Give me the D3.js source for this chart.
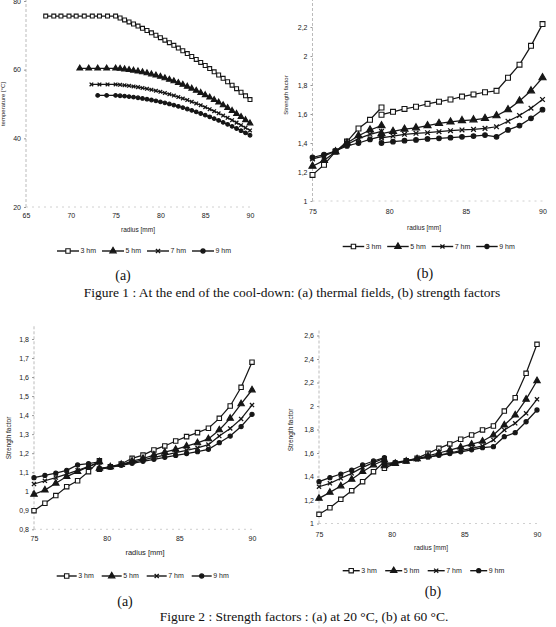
<!DOCTYPE html>
<html>
<head>
<meta charset="utf-8">
<script src="https://cdn.jsdelivr.net/npm/d3@7"></script>
<style>
  body { margin: 0; background: #fff; }
  svg { display: block; }
</style>
</head>
<body>
<div id="chart"></div>
<script>
// series names
const seriesNames = ["3 hm", "5 hm", "7 hm", "9 hm"];

// Figure 1 (a): temperature [°C] vs radius [mm]
const radiusFine = [75, 75.5, 76, 76.5, 77, 77.5, 78, 78.5, 79, 79.5, 80, 80.5, 81, 81.5, 82, 82.5,
  83, 83.5, 84, 84.5, 85, 85.5, 86, 86.5, 87, 87.5, 88, 88.5, 89, 89.5, 90];
const temp3hmStart = [67.2, 68.1, 68.9, 69.8, 70.6, 71.5, 72.4, 73.2, 74.1];
const temp5hmStart = [71, 72, 73, 74];
const temp7hmStart = [72.3, 73.2, 74.1];
const temp9hmStart = [73, 74];
const temp3hm = [75.6, 75.6, 75.6, 75.6, 75.6, 75.6, 75.6, 75.6, 75.6,
  75.6, 75.05, 74.49, 73.91, 73.31, 72.69, 72.05, 71.40, 70.72, 70.03, 69.32, 68.60, 67.85, 67.08, 66.30,
  65.50, 64.68, 63.84, 62.99, 62.11, 61.22, 60.31, 59.38, 58.44, 57.47, 56.49, 55.49, 54.47, 53.43, 52.38, 51.30];
const temp5hm = [60.4, 60.4, 60.4, 60.4,
  60.4, 60.29, 60.14, 59.97, 59.77, 59.54, 59.28, 58.99, 58.68, 58.33, 57.96, 57.55, 57.12, 56.66, 56.17,
  55.65, 55.10, 54.53, 53.92, 53.29, 52.62, 51.93, 51.21, 50.46, 49.68, 48.87, 48.04, 47.17, 46.28, 45.35, 44.40];
const temp7hm = [55.7, 55.7, 55.7,
  55.7, 55.59, 55.45, 55.30, 55.12, 54.91, 54.68, 54.43, 54.16, 53.86, 53.54, 53.20, 52.84, 52.45, 52.04,
  51.60, 51.14, 50.66, 50.16, 49.63, 49.08, 48.50, 47.91, 47.29, 46.64, 45.98, 45.29, 44.58, 43.84, 43.08, 42.30];
const temp9hm = [52.5, 52.5,
  52.5, 52.40, 52.29, 52.15, 51.99, 51.82, 51.62, 51.40, 51.17, 50.91, 50.63, 50.34, 50.02, 49.68, 49.33,
  48.95, 48.55, 48.14, 47.70, 47.24, 46.77, 46.27, 45.75, 45.22, 44.66, 44.08, 43.49, 42.87, 42.23, 41.58, 40.90];

// strength factor charts: two radius segments (break at 79.5 mm)
const radiusPre = [75, 75.75, 76.5, 77.25, 78, 78.75, 79.5];
const radiusPost = [79.5, 80.25, 81, 81.75, 82.5, 83.25, 84, 84.75, 85.5, 86.25, 87, 87.75, 88.5, 89.25, 90];

// Figure 1 (b): strength factor, end of cool-down
const sf1b3hm = [1.18, 1.25, 1.34, 1.41, 1.50, 1.56, 1.645,
  1.595, 1.615, 1.635, 1.65, 1.67, 1.685, 1.70, 1.72, 1.735, 1.75, 1.76, 1.85, 1.94, 2.07, 2.22];
const sf1b5hm = [1.24, 1.28, 1.34, 1.40, 1.45, 1.49, 1.52,
  1.465, 1.48, 1.495, 1.505, 1.52, 1.535, 1.545, 1.555, 1.56, 1.57, 1.588, 1.63, 1.69, 1.76, 1.85];
const sf1b7hm = [1.29, 1.31, 1.345, 1.39, 1.43, 1.46, 1.48,
  1.435, 1.448, 1.46, 1.467, 1.471, 1.478, 1.485, 1.49, 1.494, 1.501, 1.512, 1.55, 1.59, 1.64, 1.70];
const sf1b9hm = [1.30, 1.32, 1.345, 1.38, 1.40, 1.425, 1.445,
  1.40, 1.409, 1.416, 1.421, 1.428, 1.432, 1.437, 1.443, 1.448, 1.455, 1.443, 1.49, 1.52, 1.57, 1.63];

// Figure 2 (a): strength factor at 20 °C
const sf2a3hm = [0.898, 0.937, 0.977, 1.024, 1.055, 1.103, 1.16,
  1.115, 1.129, 1.143, 1.173, 1.19, 1.217, 1.238, 1.264, 1.287, 1.308, 1.331, 1.383, 1.448, 1.546, 1.678];
const sf2a5hm = [0.984, 1.006, 1.042, 1.077, 1.103, 1.129, 1.155,
  1.12, 1.128, 1.14, 1.158, 1.172, 1.19, 1.205, 1.22, 1.237, 1.254, 1.275, 1.322, 1.383, 1.459, 1.532];
const sf2a7hm = [1.038, 1.055, 1.072, 1.09, 1.11, 1.13, 1.15,
  1.118, 1.128, 1.138, 1.152, 1.165, 1.178, 1.19, 1.203, 1.215, 1.228, 1.245, 1.29, 1.33, 1.38, 1.453];
const sf2a9hm = [1.071, 1.083, 1.095, 1.11, 1.138, 1.145, 1.155,
  1.115, 1.126, 1.136, 1.147, 1.157, 1.168, 1.178, 1.188, 1.198, 1.208, 1.22, 1.255, 1.29, 1.34, 1.404];

// Figure 2 (b): strength factor at 60 °C
const sf2b3hm = [1.078, 1.134, 1.206, 1.279, 1.356, 1.441, 1.526,
  1.47, 1.512, 1.534, 1.556, 1.597, 1.64, 1.677, 1.717, 1.753, 1.796, 1.83, 1.957, 2.071, 2.278, 2.525];
const sf2b5hm = [1.214, 1.265, 1.319, 1.376, 1.441, 1.498, 1.54,
  1.49, 1.51, 1.53, 1.55, 1.575, 1.60, 1.625, 1.65, 1.675, 1.70, 1.753, 1.838, 1.923, 2.057, 2.215];
const sf2b7hm = [1.313, 1.342, 1.385, 1.427, 1.478, 1.518, 1.555,
  1.50, 1.515, 1.53, 1.547, 1.565, 1.583, 1.60, 1.62, 1.64, 1.66, 1.711, 1.796, 1.853, 1.938, 2.057];
const sf2b9hm = [1.356, 1.39, 1.421, 1.455, 1.498, 1.532, 1.56,
  1.51, 1.52, 1.535, 1.55, 1.565, 1.58, 1.595, 1.61, 1.627, 1.645, 1.654, 1.739, 1.773, 1.866, 1.966];

// tick values
const tempTicks = [20, 40, 60, 80];
const sf1bTicks = [1, 1.2, 1.4, 1.6, 1.8, 2, 2.2];
const sf2aTicks = [0.8, 0.9, 1, 1.1, 1.2, 1.3, 1.4, 1.5, 1.6, 1.7, 1.8];
const sf2bTicks = [1, 1.2, 1.4, 1.6, 1.8, 2, 2.2, 2.4, 2.6];
const radiusTicksA = [65, 70, 75, 80, 85, 90];
const radiusTicksB = [75, 80, 85, 90];

const ink = "#161616";
const sans = "'Liberation Sans', Arial, sans-serif";
const serif = "'Liberation Serif', 'Times New Roman', serif";

var svg = d3.select("#chart").append("svg")
    .attr("width", 556)
    .attr("height", 627);

var markerTypes = [d3.symbolSquare, d3.symbolTriangle, d3.symbolTimes, d3.symbolCircle];
var markerSizes = [24, 22, 16, 17];

function marker(g, i, x, y, k) {
    g.append("path")
        .attr("transform", "translate(" + x + "," + y + ")")
        .attr("d", d3.symbol(markerTypes[i], markerSizes[i] * k * k)())
        .attr("fill", i == 0 ? "#fff" : (i == 2 ? "none" : ink))
        .attr("stroke", ink)
        .attr("stroke-width", i == 2 ? 1.3 : 1.1);
}

var fmt = function (d) { return String(d).replace(".", ","); };

function panel(o) {
    var g = svg.append("g");
    var x = d3.scaleLinear().domain(o.xDomain).range(o.xRange);
    var y = d3.scaleLinear().domain(o.yDomain).range(o.yRange);
    var x0 = o.xRange[0], yb = o.yRange[0];

    // faint dashed axis lines (scanned look)
    g.append("line").attr("x1", x0).attr("x2", x0).attr("y1", yb).attr("y2", o.yTop)
        .attr("stroke", "#aaa").attr("stroke-width", 0.8).attr("stroke-dasharray", "3,2");
    g.append("line").attr("x1", x0).attr("x2", o.xRange[1]).attr("y1", yb).attr("y2", yb)
        .attr("stroke", "#c4c4c4").attr("stroke-width", 0.8).attr("stroke-dasharray", "2,4");

    var ya = g.append("g").attr("transform", "translate(" + x0 + ",0)")
        .call(d3.axisLeft(y).tickValues(o.yTicks).tickSize(2).tickPadding(3).tickFormat(fmt));
    var xa = g.append("g").attr("transform", "translate(0," + yb + ")")
        .call(d3.axisBottom(x).tickValues(o.xTicks).tickSize(0).tickPadding(o.xPad).tickFormat(fmt));
    [ya, xa].forEach(function (a) {
        a.select(".domain").remove();
        a.selectAll(".tick line").attr("stroke", "#999");
        a.selectAll(".tick text").attr("font-family", sans).attr("font-size", o.tickFont).attr("fill", "#1a1a1a");
    });

    // axis titles
    g.append("text")
        .attr("transform", "translate(" + o.yTitle[0] + "," + o.yTitle[1] + ") rotate(-90)")
        .attr("text-anchor", "middle").attr("font-family", sans).attr("font-size", o.titleFont)
        .attr("fill", "#222").text(o.yLabel);
    g.append("text")
        .attr("x", o.xTitle[0]).attr("y", o.xTitle[1])
        .attr("text-anchor", "middle").attr("font-family", sans).attr("font-size", o.xTitleFont)
        .attr("fill", "#222").text("radius [mm]");

    // series
    var line = d3.line().x(function (d) { return x(d[0]); }).y(function (d) { return y(d[1]); });
    o.series.forEach(function (s, i) {
        s.segments.forEach(function (seg) {
            g.append("path").datum(seg).attr("d", line)
                .attr("fill", "none").attr("stroke", ink).attr("stroke-width", 1.25);
        });
        s.segments.forEach(function (seg) {
            seg.forEach(function (d) { marker(g, i, x(d[0]), y(d[1]), o.mk); });
        });
    });

    // legend
    var lg = o.legend;
    seriesNames.forEach(function (name, i) {
        var xs = lg.x + i * lg.step;
        g.append("line").attr("x1", xs).attr("x2", xs + lg.len).attr("y1", lg.y).attr("y2", lg.y)
            .attr("stroke", ink).attr("stroke-width", 1.4);
        marker(g, i, xs + lg.len / 2, lg.y, 0.9);
        g.append("text").attr("x", xs + lg.len + 1.5).attr("y", lg.y).attr("dy", "0.35em")
            .attr("font-family", sans).attr("font-size", lg.font).attr("fill", "#1a1a1a").text(name);
    });

    // sub-figure letter
    g.append("text").attr("x", o.letter[0]).attr("y", o.letter[1]).attr("text-anchor", "middle")
        .attr("font-family", serif).attr("font-size", 14).attr("fill", "#111").text(o.letterText);
}

function pairs(rs, vs) { return rs.map(function (r, i) { return [r, vs[i]]; }); }
function split(vs) {
    return [pairs(radiusPre, vs.slice(0, 7)), pairs(radiusPost, vs.slice(7))];
}

// Figure 1 (a)
panel({
    xDomain: [65, 90], xRange: [26, 250], yDomain: [20, 80], yRange: [207, 1], yTop: 0,
    yTicks: tempTicks, xTicks: radiusTicksA, xPad: 6, tickFont: 7, titleFont: 6, xTitleFont: 6.5, mk: 0.8,
    yLabel: "temperature [°C]", yTitle: [5, 104], xTitle: [138, 232],
    series: [
        { segments: [pairs(temp3hmStart.concat(radiusFine), temp3hm)] },
        { segments: [pairs(temp5hmStart.concat(radiusFine), temp5hm)] },
        { segments: [pairs(temp7hmStart.concat(radiusFine), temp7hm)] },
        { segments: [pairs(temp9hmStart.concat(radiusFine), temp9hm)] }
    ],
    legend: { x: 57, y: 251, step: 45, len: 22, font: 7 },
    letter: [123, 280], letterText: "(a)"
});

// Figure 1 (b)
panel({
    xDomain: [75, 90], xRange: [312.5, 542.5], yDomain: [1, 2.2], yRange: [201, 27], yTop: 0,
    yTicks: sf1bTicks, xTicks: radiusTicksB, xPad: 8, tickFont: 7, titleFont: 6, xTitleFont: 6.5, mk: 1,
    yLabel: "Strength factor", yTitle: [288, 95], xTitle: [424, 230],
    series: [sf1b3hm, sf1b5hm, sf1b7hm, sf1b9hm].map(function (v) { return { segments: split(v) }; }),
    legend: { x: 342.7, y: 246.5, step: 44.5, len: 21.5, font: 7 },
    letter: [425, 278], letterText: "(b)"
});

// Figure 2 (a)
panel({
    xDomain: [75, 90], xRange: [34, 252], yDomain: [0.8, 1.8], yRange: [529.3, 339], yTop: 325,
    yTicks: sf2aTicks, xTicks: radiusTicksB, xPad: 7, tickFont: 7, titleFont: 6.5, xTitleFont: 7.5, mk: 0.9,
    yLabel: "Strength factor", yTitle: [11, 438], xTitle: [145, 555],
    series: [sf2a3hm, sf2a5hm, sf2a7hm, sf2a9hm].map(function (v) { return { segments: split(v) }; }),
    legend: { x: 56.7, y: 576, step: 45, len: 20, font: 7 },
    letter: [125, 606], letterText: "(a)"
});

// Figure 2 (b)
panel({
    xDomain: [75, 90], xRange: [319, 537], yDomain: [1, 2.6], yRange: [523.5, 335.5], yTop: 330,
    yTicks: sf2bTicks, xTicks: radiusTicksB, xPad: 9, tickFont: 7, titleFont: 6.5, xTitleFont: 6.5, mk: 0.9,
    yLabel: "Strength factor", yTitle: [293, 430], xTitle: [431, 550],
    series: [sf2b3hm, sf2b5hm, sf2b7hm, sf2b9hm].map(function (v) { return { segments: split(v) }; }),
    legend: { x: 342.7, y: 570.7, step: 42.5, len: 17, font: 7 },
    letter: [433, 596], letterText: "(b)"
});

// captions
svg.append("text").attr("x", 292).attr("y", 297).attr("text-anchor", "middle")
    .attr("font-family", serif).attr("font-size", 13.5).attr("fill", "#111")
    .text("Figure 1 : At the end of the cool-down: (a) thermal fields, (b) strength factors");
svg.append("text").attr("x", 304).attr("y", 621).attr("text-anchor", "middle")
    .attr("font-family", serif).attr("font-size", 13.5).attr("fill", "#111")
    .text("Figure 2 : Strength factors : (a) at 20 °C, (b) at 60 °C.");
</script>
</body>
</html>
